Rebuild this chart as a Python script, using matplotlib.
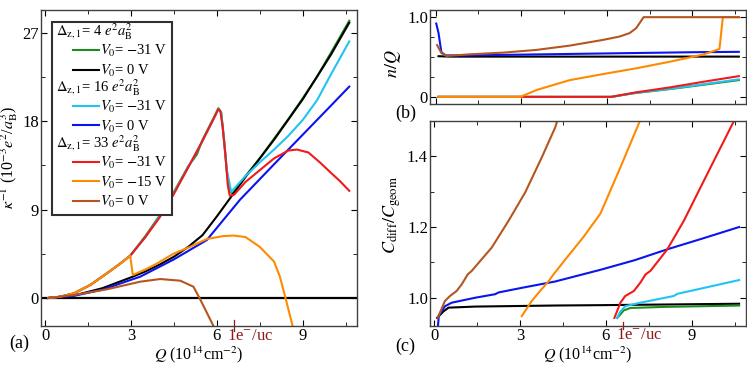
import matplotlib
matplotlib.use("Agg")
import numpy as np
import matplotlib.pyplot as plt
from matplotlib.lines import Line2D
from matplotlib.text import Text
from matplotlib.legend_handler import HandlerLine2D, HandlerBase
from matplotlib.ticker import MultipleLocator, FixedLocator
import matplotlib.transforms as mtransforms

plt.rcParams['font.family'] = 'serif'
plt.rcParams['font.serif'] = ['Liberation Serif', 'DejaVu Serif']
plt.rcParams['mathtext.fontset'] = 'stix'
plt.rcParams['font.size'] = 12

# colours for the seven curves (legend order)
col_green = '#1f8c1f'
col_black = 'black'
col_cyan = '#20c4f4'
col_blue = '#0a14f0'
col_red = '#f01a1a'
col_orange = '#ff8a00'
col_brown = '#b5561f'
col_uc = '#8b1a1a'

uc_Q = 6.6  # 1 e-/uc in 10^14 cm^-2

# ---------------- panel (a): inverse compressibility ----------------
a_Q_low = [0.1, 0.5, 1.0, 1.57, 2.15, 2.62, 2.97]
a_kap_low = [0.0, 0.12, 0.47, 1.32, 2.5, 3.5, 4.3]

a_green_Q = a_Q_low + [3.5, 4.0, 4.3, 4.5, 5.0, 5.3, 5.5, 5.9, 6.05, 6.15, 6.25, 6.35, 6.45, 6.55,
                       7.0, 7.5, 8.0, 8.5, 9.0, 9.5, 10.0, 10.63]
a_green = a_kap_low + [6.3, 8.4, 9.5, 10.8, 13.4, 14.6, 16.1, 18.4, 19.3, 18.9, 16.0, 12.8, 10.9, 10.6,
                       12.4, 14.2, 16.2, 18.2, 20.3, 22.5, 25.0, 28.2]

a_black_Q = [0.1, 1.0, 2.0, 3.0, 3.5, 4.0, 4.5, 5.0, 5.5, 6.0, 6.5, 7.0, 8.0, 9.0, 10.0, 10.63]
a_black = [0.0, 0.25, 1.0, 2.1, 2.7, 3.4, 4.2, 5.2, 6.4, 8.3, 10.3, 12.3, 16.1, 20.2, 24.8, 28.0]

a_cyan_Q = a_Q_low + [3.5, 4.0, 4.5, 5.0, 5.5, 5.9, 6.05, 6.15, 6.25, 6.35, 6.5,
                      7.0, 7.5, 8.0, 8.5, 9.0, 9.5, 10.0, 10.63]
a_cyan = a_kap_low + [6.2, 8.3, 10.7, 13.3, 16.0, 18.3, 19.2, 18.9, 16.2, 13.0, 10.8,
                      12.4, 13.8, 15.1, 16.5, 18.1, 20.1, 22.8, 26.1]

a_blue_Q = [0.1, 1.0, 2.0, 3.32, 4.48, 5.65, 6.81, 8.0, 9.0, 10.0, 10.63]
a_blue = [0.0, 0.22, 0.85, 2.17, 3.9, 5.9, 10.0, 13.6, 16.6, 19.6, 21.5]

a_red_Q = a_Q_low + [3.5, 4.0, 4.5, 5.0, 5.5, 5.9, 6.05, 6.12, 6.2, 6.3, 6.38, 6.45, 6.6,
                     7.0, 7.5, 8.0, 8.5, 8.8, 9.2, 9.6, 10.0, 10.3, 10.63]
a_red = a_kap_low + [6.2, 8.2, 10.6, 13.3, 16.0, 18.3, 19.2, 19.0, 17.5, 14.5, 11.5, 10.4, 10.5,
                     11.8, 13.0, 14.2, 15.0, 15.1, 14.8, 13.8, 12.7, 11.9, 10.9]

a_orange_Q = a_Q_low + [3.06, 3.5, 3.9, 4.48, 5.06, 5.65, 6.23, 6.6, 7.0, 7.5, 8.0, 8.2, 8.4, 8.65]
a_orange = a_kap_low + [2.34, 2.9, 3.5, 4.5, 5.2, 6.0, 6.3, 6.35, 6.2, 5.2, 3.7, 2.2, 0.0, -2.85]

a_brown_Q = [0.1, 1.0, 2.15, 3.32, 4.02, 4.72, 5.18, 5.41, 5.65, 5.88]
a_brown = [0.0, 0.3, 0.88, 1.66, 1.93, 1.76, 1.15, -0.1, -1.5, -2.85]

# ---------------- panel (b): n/Q ----------------
b_black_Q = [0.1, 0.5, 3.0, 6.0, 9.0, 10.63]
b_black = [0.51, 0.505, 0.505, 0.505, 0.505, 0.505]

b_blue_Q = [0.02, 0.1, 0.2, 0.35, 1.0, 3.0, 6.0, 9.0, 10.63]
b_blue = [0.92, 0.8, 0.56, 0.52, 0.52, 0.53, 0.545, 0.56, 0.565]

b_brown_Q = [0.05, 0.2, 0.38, 1.2, 2.37, 3.53, 4.7, 5.87, 6.45, 6.8, 7.03, 7.15, 7.29, 10.63]
b_brown = [0.65, 0.55, 0.513, 0.534, 0.555, 0.589, 0.643, 0.715, 0.757, 0.80, 0.862, 0.925, 1.0, 1.0]

b_orange_Q = [0.1, 2.97, 3.53, 4.7, 5.87, 7.03, 8.2, 9.37, 9.95, 10.07, 10.63]
b_orange = [0.0, 0.0, 0.085, 0.21, 0.286, 0.358, 0.44, 0.53, 0.60, 1.0, 1.0]

b_red_Q = [0.1, 6.16, 7.0, 8.2, 9.4, 10.63]
b_red = [0.0, 0.0, 0.055, 0.118, 0.19, 0.26]

b_green_Q = [0.1, 6.16, 7.0, 8.2, 9.4, 10.63]
b_green = [0.0, 0.0, 0.048, 0.097, 0.152, 0.21]

b_cyan_Q = [0.1, 6.16, 7.0, 8.2, 9.4, 10.63]
b_cyan = [0.0, 0.0, 0.05, 0.10, 0.158, 0.22]

# ---------------- panel (c): C_diff / C_geom ----------------
c_black_Q = [0.1, 0.33, 0.5, 1.43, 4.23, 5.81, 10.66]
c_black = [0.943, 0.962, 0.972, 0.975, 0.978, 0.979, 0.983]

c_blue_Q = [0.13, 0.16, 0.375, 0.61, 1.43, 2.13, 2.25, 3.06, 4.23, 5.81, 7.0, 8.15, 9.4, 10.66]
c_blue = [0.92, 0.95, 0.976, 0.986, 1.0, 1.01, 1.015, 1.028, 1.046, 1.079, 1.106, 1.137, 1.168, 1.2]

c_brown_Q = [0.12, 0.375, 0.55, 0.78, 0.96, 1.17, 1.31, 2.01, 2.6, 3.18, 3.76, 4.23, 4.3]
c_brown = [0.943, 0.991, 1.005, 1.019, 1.038, 1.066, 1.076, 1.142, 1.218, 1.298, 1.397, 1.482, 1.50]

c_orange_Q = [3.06, 3.41, 3.7, 4.0, 4.17, 4.6, 5.2, 5.81, 6.51, 7.19]
c_orange = [0.948, 0.991, 1.019, 1.047, 1.066, 1.11, 1.17, 1.238, 1.369, 1.50]

c_red_Q = [6.3, 6.51, 6.68, 6.98, 7.21, 7.39, 7.56, 8.15, 8.73, 9.31, 9.9, 10.48]
c_red = [0.943, 0.986, 1.005, 1.019, 1.043, 1.066, 1.076, 1.137, 1.218, 1.312, 1.407, 1.50]

c_cyan_Q = [6.4, 6.5, 6.68, 7.21, 8.38, 8.5, 10.66]
c_cyan = [0.943, 0.96, 0.976, 0.986, 1.005, 1.011, 1.05]

c_green_Q = [6.4, 6.5, 6.62, 6.86, 8.0, 10.66]
c_green = [0.943, 0.952, 0.964, 0.971, 0.974, 0.978]


class IndentLine(HandlerLine2D):
    # legend line drawn only over the right part of the handle box
    def get_xdata(self, legend, xdescent, ydescent, width, height, fontsize):
        x0 = -xdescent + 0.4 * width
        x1 = -xdescent + width
        return np.array([x0, x1]), np.array([0.5 * (x0 + x1)])


class Header:
    def __init__(self, s):
        self.s = s


class HandlerHeader(HandlerBase):
    # group title written from the left edge of the handle box
    def create_artists(self, legend, orig_handle, xdescent, ydescent, width, height,
                       fontsize, trans):
        t = Text(-xdescent, -ydescent + 0.05 * height, orig_handle.s, ha='left',
                 va='baseline', fontsize=fontsize, transform=trans)
        return [t]


def style_axes(ax):
    ax.tick_params(which='both', direction='in', top=True, right=True, labelsize=12, pad=1.5)
    ax.tick_params(which='major', length=4)
    ax.tick_params(which='minor', length=3)
    for s in ax.spines.values():
        s.set_color('#404040')
        s.set_linewidth(1.0)


def mark_uc(ax):
    trans = mtransforms.blended_transform_factory(ax.transData, ax.transAxes)
    ax.axvline(uc_Q, ymin=-0.015, ymax=0.02, color=col_uc, lw=0.9, clip_on=False)
    ax.text(uc_Q - 0.25, -0.005, '1e$^{-}$/uc', transform=trans, color=col_uc,
            ha='left', va='top', fontsize=12)


fig = plt.figure(figsize=(7.47, 3.65), dpi=100)
ax_a = fig.add_axes([0.0549, 0.1068, 0.423, 0.866])
ax_b = fig.add_axes([0.5756, 0.715, 0.423, 0.2576])
ax_c = fig.add_axes([0.5756, 0.1068, 0.423, 0.5617])

lw = 1.5

# panel (a)
ax_a.axhline(0, color='black', lw=1.6)
ax_a.plot(a_green_Q, a_green, color=col_green, lw=lw)
ax_a.plot(a_black_Q, a_black, color=col_black, lw=lw)
ax_a.plot(a_cyan_Q, a_cyan, color=col_cyan, lw=lw)
ax_a.plot(a_blue_Q, a_blue, color=col_blue, lw=lw)
ax_a.plot(a_red_Q, a_red, color=col_red, lw=lw)
ax_a.plot(a_orange_Q, a_orange, color=col_orange, lw=lw)
ax_a.plot(a_brown_Q, a_brown, color=col_brown, lw=lw)
ax_a.set_xlim(-0.15, 10.9)
ax_a.set_ylim(-2.85, 29.3)
ax_a.xaxis.set_major_locator(MultipleLocator(3))
ax_a.xaxis.set_minor_locator(MultipleLocator(1.5))
ax_a.yaxis.set_major_locator(MultipleLocator(9))
ax_a.yaxis.set_minor_locator(MultipleLocator(4.5))
style_axes(ax_a)
ax_a.set_xlabel(r'$Q$ (10$^{14}$cm$^{-2}$)', fontsize=11.5)
ax_a.xaxis.set_label_coords(0.5, -0.057)
ax_a.set_ylabel(r'$\kappa^{-1}$ (10$^{-3}$$e^2$/$a_\mathrm{B}^3$)', fontsize=11.5)
ax_a.yaxis.set_label_coords(-0.066, 0.535)
mark_uc(ax_a)
ax_a.text(-0.1, -0.055, '(a)', transform=ax_a.transAxes, fontsize=13, va='center', ha='left')

# legend with group headers
leg_fs = 10.5
handles = [Header(r'$\Delta_\mathrm{z,1}$= 4 $e^2a_\mathrm{B}^2$'),
           Line2D([], [], color=col_green, lw=lw), Line2D([], [], color=col_black, lw=lw),
           Header(r'$\Delta_\mathrm{z,1}$= 16 $e^2a_\mathrm{B}^2$'),
           Line2D([], [], color=col_cyan, lw=lw), Line2D([], [], color=col_blue, lw=lw),
           Header(r'$\Delta_\mathrm{z,1}$= 33 $e^2a_\mathrm{B}^2$'),
           Line2D([], [], color=col_red, lw=lw), Line2D([], [], color=col_orange, lw=lw),
           Line2D([], [], color=col_brown, lw=lw)]
labels = ['',
          r'$V_0$= $-$31 V', r'$V_0$= 0 V',
          '',
          r'$V_0$= $-$31 V', r'$V_0$= 0 V',
          '',
          r'$V_0$= $-$31 V', r'$V_0$= $-$15 V', r'$V_0$= 0 V']
leg = ax_a.legend(handles, labels, loc='upper left', bbox_to_anchor=(0.035, 0.962),
                  fontsize=leg_fs, frameon=True, fancybox=False, framealpha=1,
                  edgecolor='#303030', handlelength=2.9, handletextpad=0.1,
                  labelspacing=0.24, borderpad=0.3, borderaxespad=0.0,
                  handler_map={Line2D: IndentLine(), Header: HandlerHeader()})
leg.get_frame().set_linewidth(1.5)

# panel (b)
ax_b.plot(b_black_Q, b_black, color=col_black, lw=lw)
ax_b.plot(b_green_Q, b_green, color=col_green, lw=lw)
ax_b.plot(b_cyan_Q, b_cyan, color=col_cyan, lw=lw)
ax_b.plot(b_red_Q, b_red, color=col_red, lw=lw)
ax_b.plot(b_blue_Q, b_blue, color=col_blue, lw=lw)
ax_b.plot(b_orange_Q, b_orange, color=col_orange, lw=lw)
ax_b.plot(b_brown_Q, b_brown, color=col_brown, lw=lw)
ax_b.set_xlim(-0.2, 10.88)
ax_b.set_ylim(-0.09, 1.09)
ax_b.xaxis.set_major_locator(MultipleLocator(3))
ax_b.xaxis.set_minor_locator(MultipleLocator(1.5))
ax_b.yaxis.set_major_locator(FixedLocator([0, 1]))
ax_b.yaxis.set_minor_locator(MultipleLocator(0.25))
ax_b.set_yticklabels(['0', '1.0'])
ax_b.set_xticklabels([])
style_axes(ax_b)
ax_b.set_ylabel(r'$n/Q$', fontsize=13)
ax_b.yaxis.set_label_coords(-0.085, 0.43)
ax_b.text(-0.11, -0.096, '(b)', transform=ax_b.transAxes, fontsize=13, va='center', ha='left')

# panel (c)
ax_c.plot(c_black_Q, c_black, color=col_black, lw=lw)
ax_c.plot(c_green_Q, c_green, color=col_green, lw=lw)
ax_c.plot(c_cyan_Q, c_cyan, color=col_cyan, lw=lw)
ax_c.plot(c_blue_Q, c_blue, color=col_blue, lw=lw)
ax_c.plot(c_red_Q, c_red, color=col_red, lw=lw)
ax_c.plot(c_orange_Q, c_orange, color=col_orange, lw=lw)
ax_c.plot(c_brown_Q, c_brown, color=col_brown, lw=lw)
ax_c.set_xlim(-0.15, 10.9)
ax_c.set_ylim(0.92, 1.5)
ax_c.xaxis.set_major_locator(MultipleLocator(3))
ax_c.xaxis.set_minor_locator(MultipleLocator(1.5))
ax_c.yaxis.set_major_locator(MultipleLocator(0.2))
ax_c.yaxis.set_minor_locator(MultipleLocator(0.1))
style_axes(ax_c)
ax_c.set_xlabel(r'$Q$ (10$^{14}$cm$^{-2}$)', fontsize=11.5)
ax_c.xaxis.set_label_coords(0.5, -0.088)
ax_c.set_ylabel(r'$C_\mathrm{diff}/C_\mathrm{geom}$', fontsize=13)
ax_c.yaxis.set_label_coords(-0.085, 0.54)
mark_uc(ax_c)
ax_c.text(-0.11, -0.1, '(c)', transform=ax_c.transAxes, fontsize=13, va='center', ha='left')

fig.savefig('out.png', dpi=100)
